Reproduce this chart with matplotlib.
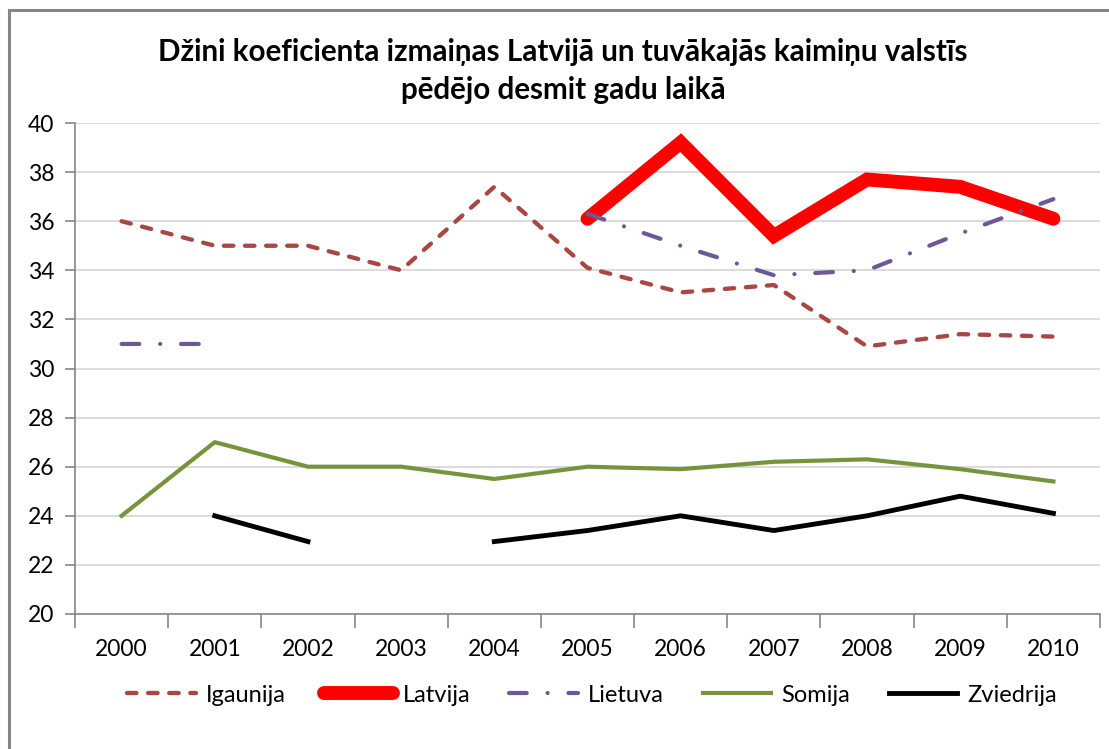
import numpy as np
import matplotlib.pyplot as plt
from matplotlib.patches import Rectangle

plt.rcParams['font.family'] = ['Lato', 'DejaVu Sans']

# dati
years = ['2000', '2001', '2002', '2003', '2004', '2005', '2006', '2007', '2008', '2009', '2010']
igaunija = [36.0, 35.0, 35.0, 34.0, 37.4, 34.1, 33.1, 33.4, 30.9, 31.4, 31.3]
latvija = [np.nan, np.nan, np.nan, np.nan, np.nan, 36.1, 39.2, 35.4, 37.7, 37.4, 36.1]
lietuva = [31.0, 31.0, np.nan, np.nan, np.nan, 36.3, 35.0, 33.8, 34.0, 35.5, 36.9]
somija = [24.0, 27.0, 26.0, 26.0, 25.5, 26.0, 25.9, 26.2, 26.3, 25.9, 25.4]
zviedrija = [np.nan, 24.0, 22.95, np.nan, 22.95, 23.4, 24.0, 23.4, 24.0, 24.8, 24.1]

fig = plt.figure(figsize=(11.09, 7.49), dpi=100)

# rāmis ap diagrammu
fig.patches.append(Rectangle((9 / 1109, -0.1), 1.2, 1.1 - 10 / 749, transform=fig.transFigure,
                             fill=False, edgecolor='#868686', linewidth=2.2))

ax = fig.add_axes([75 / 1109, 1 - 614 / 749, 1025 / 1109, 491 / 749])
x = np.arange(len(years))

ax.plot(x, igaunija, color='#A84743', lw=3.1, dashes=(2.2, 2.7), dash_capstyle='round',
        label='Igaunija', zorder=3)
ax.plot(x, latvija, color='#FF0000', lw=10, solid_capstyle='round', solid_joinstyle='miter',
        label='Latvija', zorder=4)
ax.plot(x, lietuva, color='#6C5898', lw=3.0, dashes=(4.25, 5.0, 0.01, 5.0), dash_capstyle='round',
        label='Lietuva', zorder=5)
ax.plot(x, somija, color='#77933C', lw=3.0, label='Somija', zorder=3)
ax.plot(x, zviedrija, color='#000000', lw=3.5, label='Zviedrija', zorder=3)

ax.set_xlim(-0.5, len(years) - 0.5)
ax.set_ylim(20, 40)
ax.set_yticks(np.arange(20, 41, 2))
ax.set_xticks(x)
ax.set_xticklabels(years)
ax.set_xticks(np.arange(-0.5, len(years), 1), minor=True)
ax.tick_params(axis='x', which='major', length=0, pad=18, labelsize=16.5)
ax.tick_params(axis='x', which='minor', length=10, width=1.2, color='#868686')
ax.tick_params(axis='y', length=7, width=1.2, color='#868686', labelsize=16.5, pad=8)
ax.yaxis.grid(True, color='#D9D9D9', lw=1.3)
ax.set_axisbelow(True)
for s in ['top', 'right']:
    ax.spines[s].set_visible(False)
for s in ['left', 'bottom']:
    ax.spines[s].set_color('#868686')
    ax.spines[s].set_linewidth(1.2)

fig.text(563 / 1109, 1 - 71 / 749,
         'Džini koeficienta izmaiņas Latvijā un tuvākajās kaimiņu valstīs\npēdējo desmit gadu laikā',
         ha='center', va='center', fontsize=21.3, fontweight='bold', linespacing=1.4)

fig.legend(loc='center', bbox_to_anchor=(592 / 1109, 1 - 695 / 749), ncol=5, frameon=False,
           fontsize=17, handlelength=2.9, handletextpad=0.42, columnspacing=1.65)

fig.savefig('out.png', dpi=100, facecolor='white')
